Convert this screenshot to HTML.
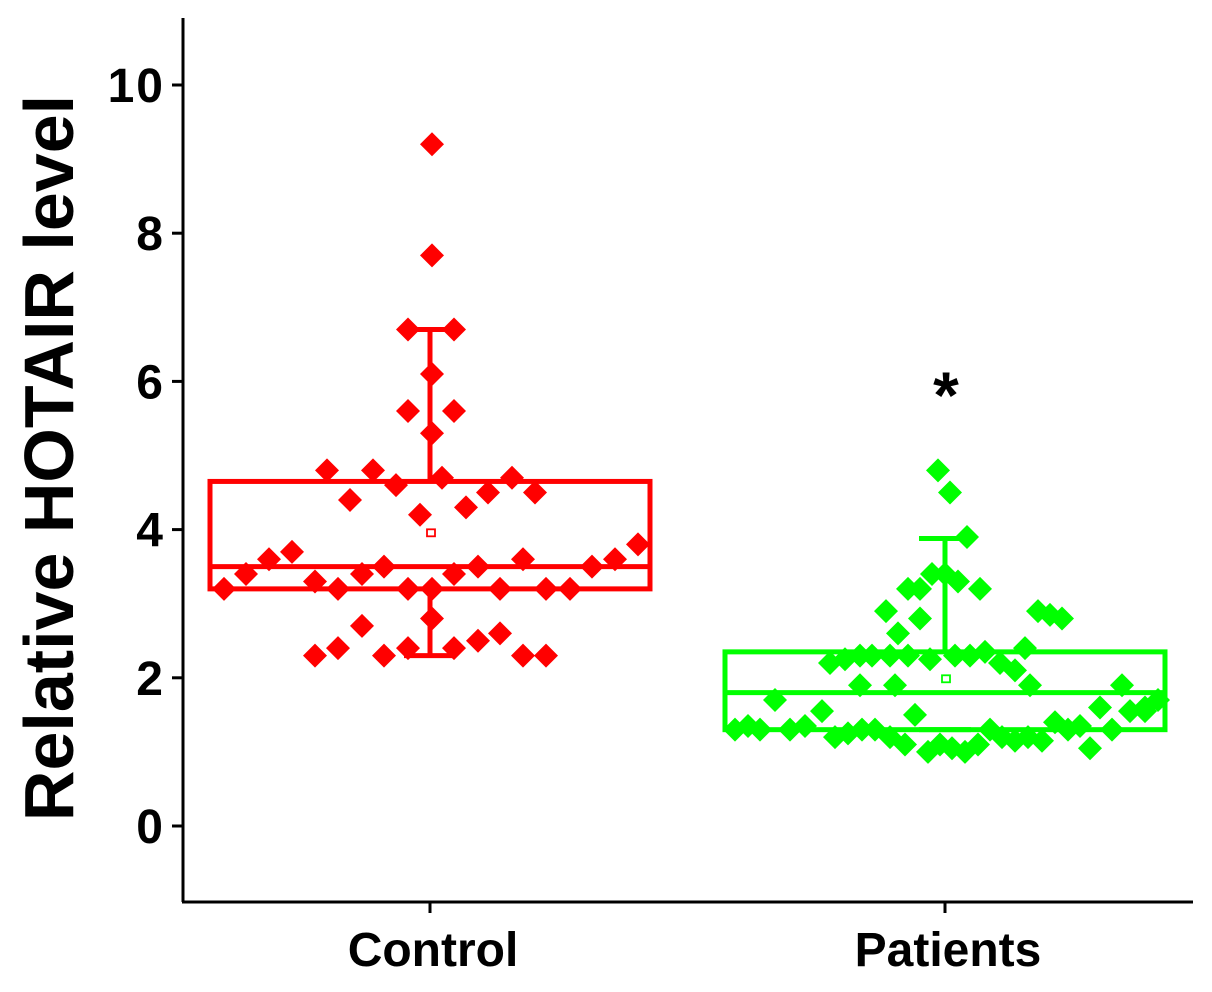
<!DOCTYPE html>
<html><head><meta charset="utf-8"><style>
body{margin:0;background:#fff;}
svg{display:block;font-family:"Liberation Sans",Arial,sans-serif;font-weight:bold;}
</style></head><body>
<svg id="chart" width="1212" height="992" viewBox="0 0 1212 992" xmlns="http://www.w3.org/2000/svg">
<g id="axes"></g>
<g id="plot"></g>
<text transform="translate(73,458) rotate(-90)" text-anchor="middle" font-size="70" fill="#000">Relative HOTAIR level</text>
<text x="946" y="418" text-anchor="middle" font-size="66" fill="#000">*</text>
</svg>
<script>
const categories=["Control","Patients"];
const colors=["#ff0000","#00ff00"];
const yTicks=[0,2,4,6,8,10];
const boxQ1=[3.2,1.3];
const boxMedian=[3.5,1.8];
const boxQ3=[4.65,2.35];
const whiskerLow=[2.3,1.3];
const whiskerHigh=[6.7,3.88];
const means=[3.95,1.98];
const controlValues=[9.2,7.7,6.7,6.7,6.1,5.6,5.6,5.3,4.8,4.8,4.6,4.7,4.7,4.4,4.3,4.5,4.5,4.2,3.2,3.4,3.6,3.7,3.3,3.2,3.4,3.5,3.2,3.2,3.4,3.5,3.2,3.6,3.2,3.2,3.5,3.6,3.8,2.8,2.7,2.4,2.3,2.3,2.4,2.4,2.5,2.6,2.3,2.3];
const controlJitter=[2,2,-22,24,2,-22,24,2,-103,-57,-34,12,82,-80,36,58,105,-10,-206,-184,-161,-138,-115,-92,-68,-46,-22,2,24,48,70,93,116,140,162,185,208,2,-68,-92,-115,-46,-22,24,48,70,93,116];
const patientValues=[4.8,4.5,3.9,3.4,3.4,3.3,3.2,3.2,3.2,2.9,2.6,2.8,2.9,2.85,2.8,2.2,2.25,2.3,2.3,2.3,2.3,2.25,2.3,2.3,2.35,2.2,2.1,2.4,1.9,1.9,1.9,1.9,1.3,1.35,1.3,1.7,1.3,1.35,1.55,1.2,1.25,1.3,1.3,1.2,1.1,1.5,1.0,1.1,1.05,1.0,1.1,1.3,1.2,1.15,1.2,1.15,1.4,1.3,1.35,1.05,1.6,1.3,1.55,1.6,1.7,1.55];
const patientJitter=[-7,5,22,-13,0,13,-25,-37,35,-59,-47,-25,93,105,117,-115,-100,-85,-73,-55,-37,-15,10,25,40,55,70,80,-85,-50,85,177,-210,-197,-185,-170,-155,-140,-123,-110,-97,-83,-70,-55,-40,-30,-17,-5,7,20,33,45,57,70,83,97,110,123,135,145,155,167,185,200,213,200];

const NS="http://www.w3.org/2000/svg";
const xCenter=[430,945];
const y=v=>826-74.1*v;
const axes=document.getElementById('axes'),plot=document.getElementById('plot');
function mk(tag,attrs,parent){const e=document.createElementNS(NS,tag);for(const k in attrs)e.setAttribute(k,attrs[k]);parent.appendChild(e);return e;}
let e=mk('line',{x1:183,y1:18,x2:183,y2:902,stroke:'#000','stroke-width':3},axes);


e=mk('line',{x1:182,y1:902,x2:1193,y2:902,stroke:'#000','stroke-width':3},axes);


yTicks.forEach(t=>{
 let l=mk('line',{x1:172,y1:y(t),x2:183,y2:y(t),stroke:'#000','stroke-width':3},axes);
 
 
 let tx=mk('text',{x:165,y:y(t)+17,'text-anchor':'end','font-size':48,fill:'#000','letter-spacing':2},axes);
 tx.textContent=t;
 
 
});
categories.forEach((c,i)=>{
 let l=mk('line',{x1:xCenter[i],y1:902,x2:xCenter[i],y2:913,stroke:'#000','stroke-width':3},axes);
 
 
 let tx=mk('text',{x:xCenter[i]+3,y:966,'text-anchor':'middle','font-size':48,fill:'#000'},axes);
 tx.textContent=c;
 
 
});
function drawGroup(i,vals,jit){
 const cx=xCenter[i],col=colors[i],hw=220;
 const g=mk('g',{},plot);
 
 
 mk('line',{x1:cx,y1:y(whiskerHigh[i]),x2:cx,y2:y(boxQ3[i]),stroke:col,'stroke-width':5},g);
 mk('line',{x1:cx,y1:y(whiskerLow[i]),x2:cx,y2:y(boxQ1[i]),stroke:col,'stroke-width':5},g);
 mk('line',{x1:cx-26,y1:y(whiskerHigh[i]),x2:cx+26,y2:y(whiskerHigh[i]),stroke:col,'stroke-width':5},g);
 mk('line',{x1:cx-26,y1:y(whiskerLow[i]),x2:cx+26,y2:y(whiskerLow[i]),stroke:col,'stroke-width':5},g);
 mk('rect',{x:cx-hw,y:y(boxQ3[i]),width:2*hw,height:y(boxQ1[i])-y(boxQ3[i]),fill:'none',stroke:col,'stroke-width':5},g);
 mk('line',{x1:cx-hw,y1:y(boxMedian[i]),x2:cx+hw,y2:y(boxMedian[i]),stroke:col,'stroke-width':5},g);
 let m=mk('rect',{x:cx-3,y:y(means[i])-4,width:8,height:7,fill:'none',stroke:col,'stroke-width':1.8},g);
 
 
 vals.forEach((v,k)=>{
  const px=cx+jit[k],py=y(v),s=12;
  let p=mk('polygon',{points:`${px},${py-s} ${px+s},${py} ${px},${py+s} ${px-s},${py}`,fill:col},g);
  
  
 });
}
drawGroup(0,controlValues,controlJitter);
drawGroup(1,patientValues,patientJitter);
</script>
</body></html>
